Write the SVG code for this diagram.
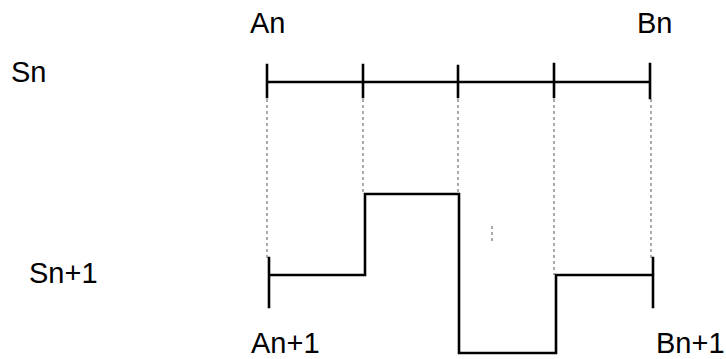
<svg xmlns="http://www.w3.org/2000/svg" width="726" height="359" viewBox="0 0 726 359">
<style>
.t{font-family:"Liberation Sans",Arial,sans-serif;font-size:29px;fill:#000}
.s{stroke:#000;stroke-width:2.6;fill:none;stroke-linecap:square}
.d{stroke:#555;stroke-width:1;stroke-dasharray:3,3;fill:none}
</style>
<rect width="726" height="359" fill="#fff"/>
<g id="labels">
<text class="t" x="250" y="33">An</text>
<text class="t" x="637" y="33">Bn</text>
<text class="t" x="11" y="82">Sn</text>
<text class="t" x="29" y="283">Sn+1</text>
<text class="t" x="251" y="353">An+1</text>
<text class="t" x="656" y="353">Bn+1</text>
</g>
<g id="Sn">
<path class="s" d="M267,82 H650 M267,65 V97 M363,65 V97 M458,66 V97 M554,64 V97 M650,64 V98"/>
</g>
<g id="Sn1">
<path class="s" d="M269,275 H365 V194 H459 V353 H556 V275 H653 M269,258 V307 M653,258 V307"/>
</g>
<g id="connectors">
<path class="d" d="M267,99 V258 M363,99 V194 M458,99 V194 M554,99 V275 M651,99 V258 M492,226 V243"/>
</g>
</svg>
